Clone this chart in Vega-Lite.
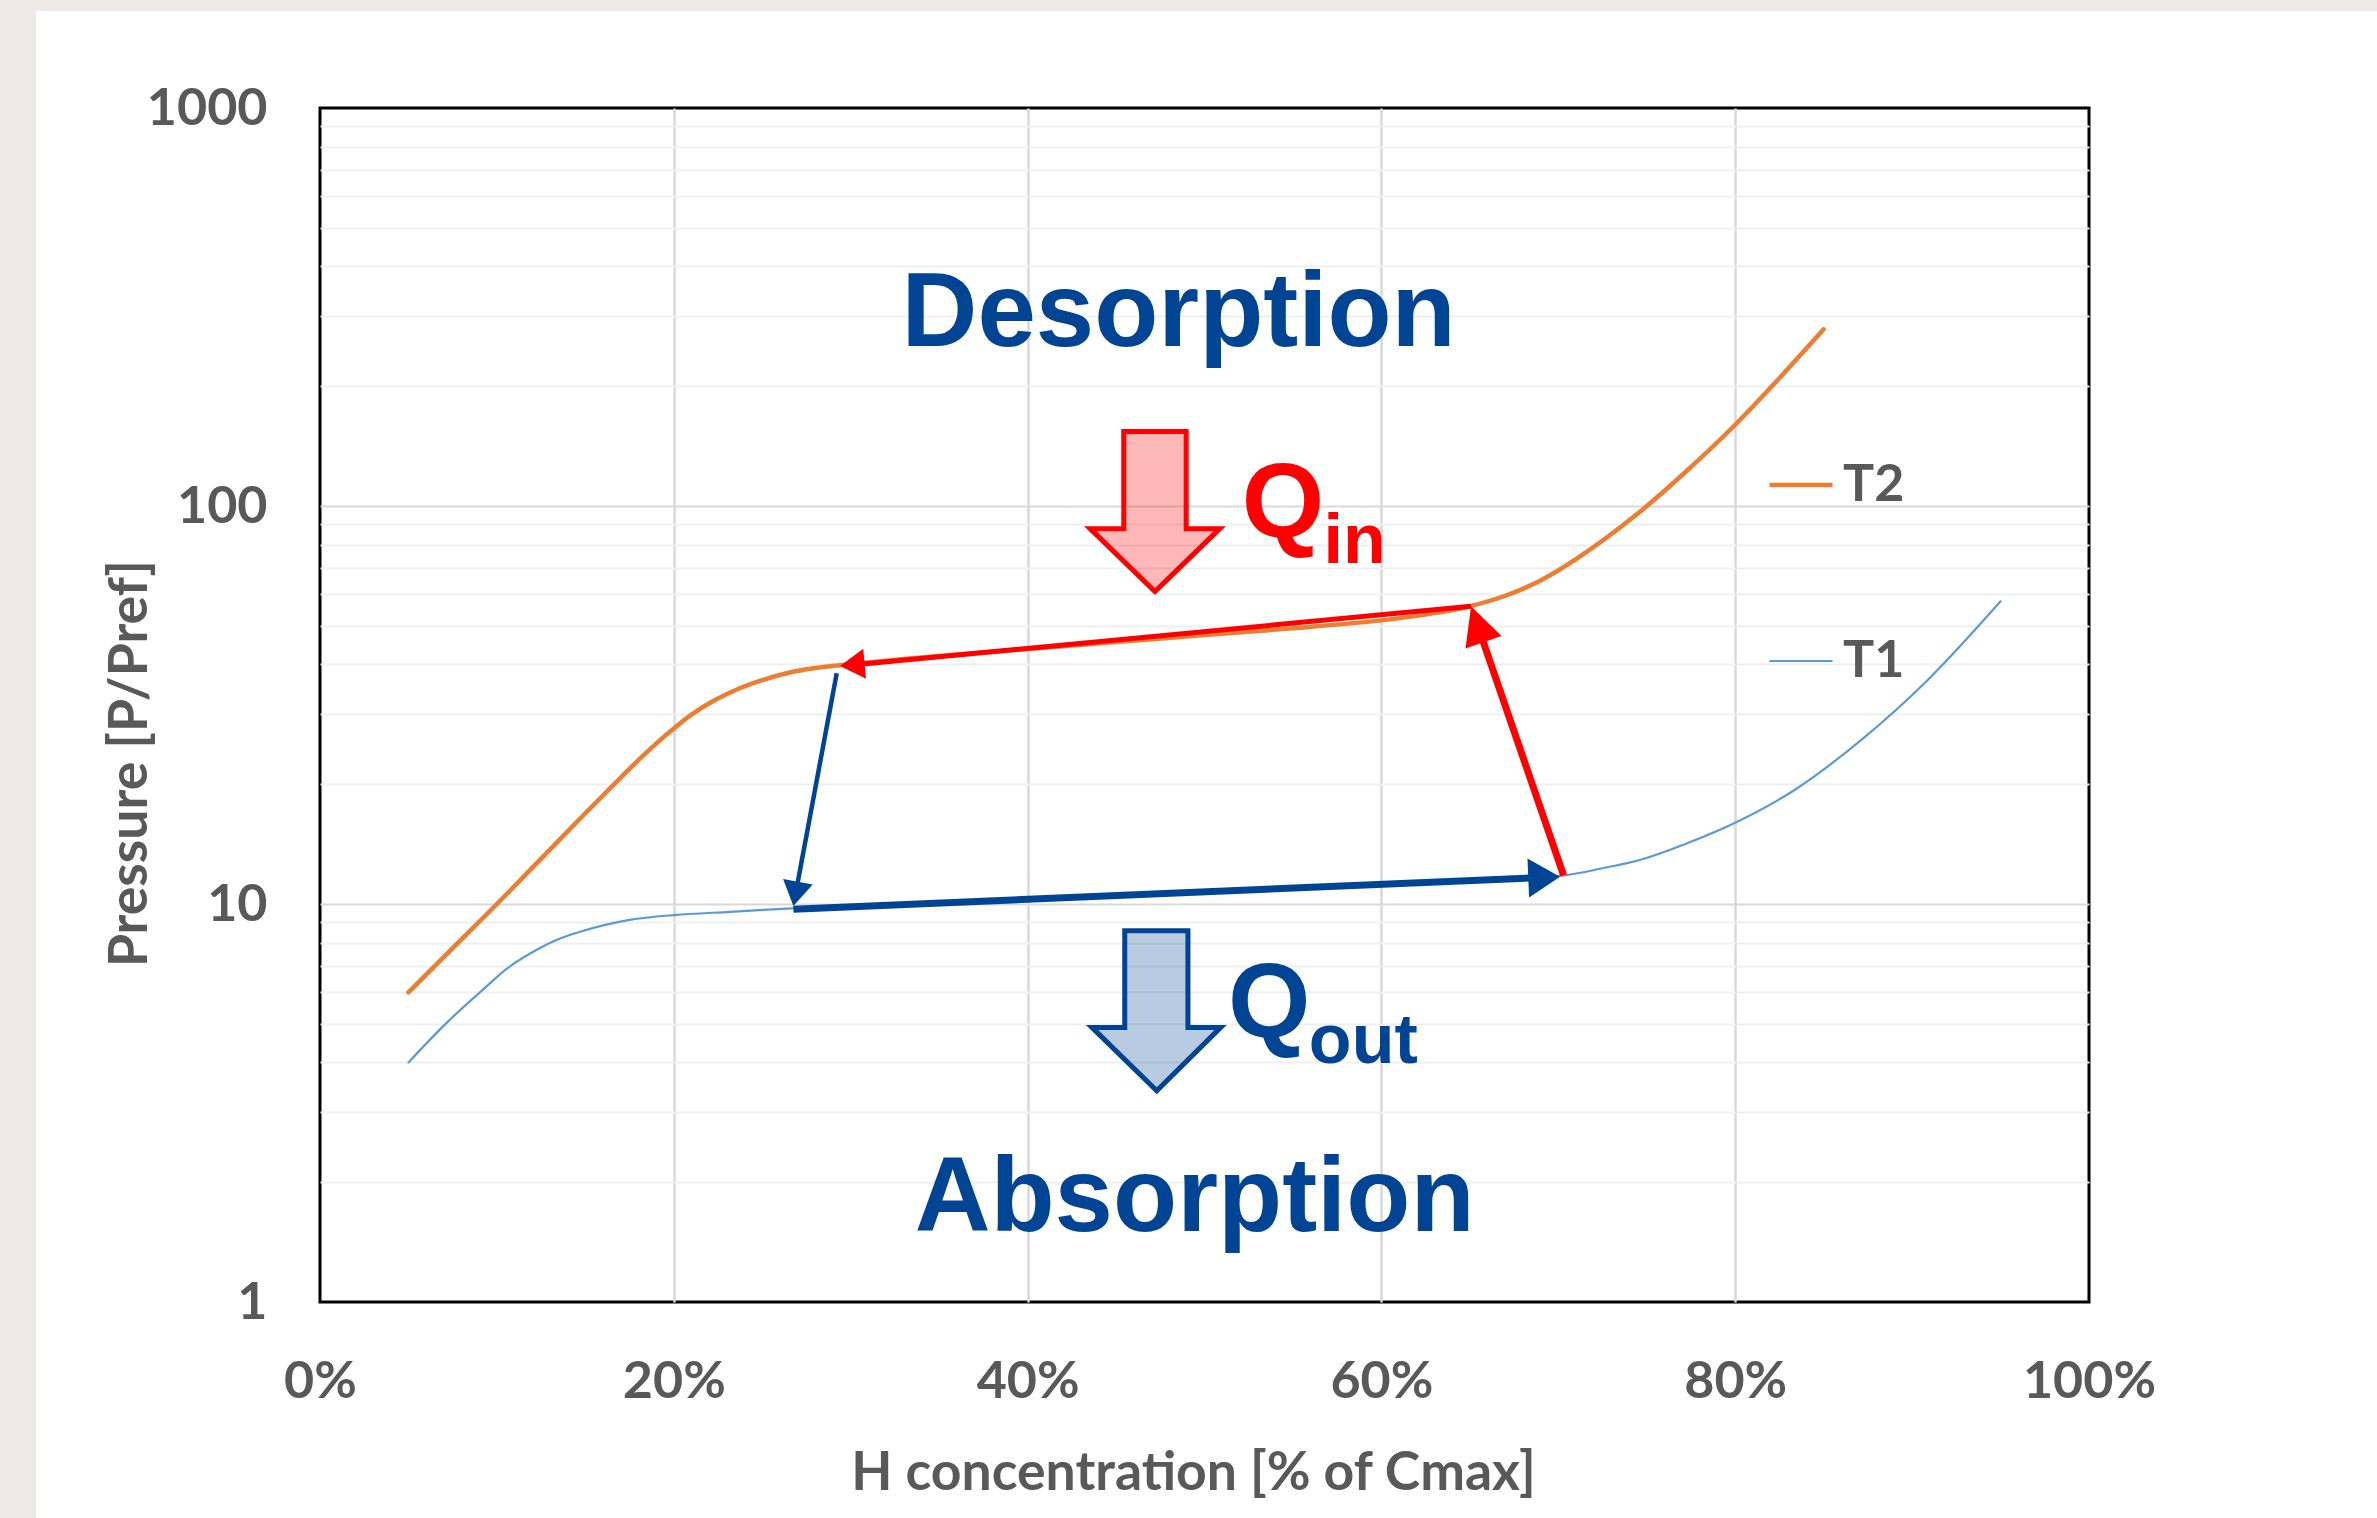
{
  "$schema": "https://vega.github.io/schema/vega-lite/v6.json",
  "width": 1769,
  "height": 1194,
  "autosize": {"type": "none"},
  "padding": {"left": 320, "top": 108, "right": 288, "bottom": 216},
  "background": "#FFFFFF",
  "config": {
    "view": {"stroke": "#000000", "strokeWidth": 3},
    "font": "Lato",
    "legend": {
      "orient": "none", "legendX": 1447, "legendY": 343, "direction": "vertical",
      "symbolType": "stroke", "symbolSize": 3969, "labelFont": "Lato", "labelFontSize": 52,
      "labelFontWeight": "bold", "labelColor": "#595959", "labelOffset": 8, "rowPadding": 117, "padding": 0
    }
  },
  "encoding": {
    "x": {
      "field": "x", "type": "quantitative",
      "scale": {"domain": [0, 100], "nice": false, "zero": false},
      "axis": {
        "values": [0, 20, 40, 60, 80, 100], "labelExpr": "datum.value + '%'", "labelFlush": false,
        "labelFont": "Lato", "labelFontSize": 52, "labelFontWeight": "bold", "labelColor": "#595959",
        "labelPadding": 54, "ticks": false, "domain": false, "grid": true, "gridColor": "#D9D9D9", "gridWidth": 2.5,
        "gridOpacity": {"condition": {"test": "datum.value==0||datum.value==100", "value": 0}, "value": 1},
        "title": "H concentration [% of Cmax]", "titleFont": "Lato", "titleFontSize": 53.5, "titleFontWeight": "bold",
        "titleColor": "#595959", "titleX": 873, "titleY": 187, "titleAlign": "center", "titleBaseline": "alphabetic"
      }
    },
    "y": {
      "field": "y", "type": "quantitative",
      "scale": {"type": "log", "domain": [1, 1000], "nice": false},
      "axis": {
        "values": [1,2,3,4,5,6,7,8,9,10,20,30,40,50,60,70,80,90,100,200,300,400,500,600,700,800,900,1000],
        "labelExpr": "(datum.value==1||datum.value==10||datum.value==100||datum.value==1000) ? format(datum.value,'d') : ''",
        "labelOverlap": false, "labelFont": "Lato", "labelFontSize": 52, "labelFontWeight": "bold", "labelColor": "#595959",
        "labelPadding": 53, "ticks": false, "domain": false, "grid": true,
        "gridColor": {"condition": {"test": "datum.value==10||datum.value==100", "value": "#D9D9D9"}, "value": "#F0F0F0"},
        "gridOpacity": {"condition": {"test": "datum.value==1||datum.value==1000", "value": 0}, "value": 1},
        "gridWidth": 2,
        "title": "Pressure [P/Pref]", "titleFont": "Lato", "titleFontSize": 53.5, "titleFontWeight": "bold", "titleColor": "#595959",
        "titleAngle": -90, "titleX": -174, "titleY": 655, "titleAlign": "center", "titleBaseline": "alphabetic"
      }
    }
  },
  "layer": [
    {
      "data": {"values": [
        {"part": "left margin", "x": -40, "x2": -16.05, "y": 0.05, "y2": 10000},
        {"part": "top margin", "x": -40, "x2": 140, "y": 1754, "y2": 10000}
      ]},
      "mark": {"type": "rect", "fill": "#EBEAE6", "clip": false},
      "encoding": {"x2": {"field": "x2"}, "y2": {"field": "y2"}}
    },
    {
      "data": {"values": [{"x": 47.2, "y": 96.9}]},
      "mark": {"type": "point", "filled": true, "shape": "M-0.39,-1L0.39,-1L0.39,0.215L0.81,0.215L0,1L-0.81,0.215L-0.39,0.215Z",
        "size": 25600, "fill": "#FF0000", "fillOpacity": 0.28, "stroke": "#FF0000", "strokeWidth": 5, "strokeOpacity": 1, "opacity": 1}
    },
    {
      "data": {"values": [{"x": 47.3, "y": 5.39}]},
      "mark": {"type": "point", "filled": true, "shape": "M-0.4,-1L0.39,-1L0.39,0.207L0.8,0.207L0,1L-0.81,0.207L-0.4,0.207Z",
        "size": 25600, "fill": "#014493", "fillOpacity": 0.28, "stroke": "#014493", "strokeWidth": 5, "strokeOpacity": 1, "opacity": 1}
    },
    {
      "data": {"values": [
        {"series": "T2", "x": 5, "y": 6.0}, {"series": "T2", "x": 7.5, "y": 7.75}, {"series": "T2", "x": 10, "y": 10.0},
        {"series": "T2", "x": 12.5, "y": 13.0}, {"series": "T2", "x": 15, "y": 16.9}, {"series": "T2", "x": 18, "y": 23.0},
        {"series": "T2", "x": 19, "y": 25.3}, {"series": "T2", "x": 20, "y": 27.6}, {"series": "T2", "x": 21, "y": 29.9},
        {"series": "T2", "x": 22.2, "y": 32.3}, {"series": "T2", "x": 23.5, "y": 34.5}, {"series": "T2", "x": 25, "y": 36.5},
        {"series": "T2", "x": 26.5, "y": 38.1}, {"series": "T2", "x": 27.9, "y": 39.1}, {"series": "T2", "x": 29.4, "y": 39.8},
        {"series": "T2", "x": 35, "y": 42.0},
        {"series": "T2", "x": 40, "y": 43.7}, {"series": "T2", "x": 45, "y": 45.5}, {"series": "T2", "x": 50, "y": 47.4},
        {"series": "T2", "x": 55, "y": 49.3}, {"series": "T2", "x": 60, "y": 51.6}, {"series": "T2", "x": 63, "y": 53.8},
        {"series": "T2", "x": 65, "y": 56.0}, {"series": "T2", "x": 67, "y": 59.5}, {"series": "T2", "x": 69, "y": 65.0},
        {"series": "T2", "x": 71, "y": 73.5}, {"series": "T2", "x": 74.3, "y": 94.2}, {"series": "T2", "x": 77.3, "y": 123},
        {"series": "T2", "x": 80, "y": 160}, {"series": "T2", "x": 82.3, "y": 205}, {"series": "T2", "x": 85, "y": 278},
        {"series": "T1", "x": 5, "y": 4.0}, {"series": "T1", "x": 7.2, "y": 5.05}, {"series": "T1", "x": 9.4, "y": 6.2},
        {"series": "T1", "x": 10.6, "y": 6.9}, {"series": "T1", "x": 11.9, "y": 7.52}, {"series": "T1", "x": 13.3, "y": 8.1},
        {"series": "T1", "x": 14.7, "y": 8.52}, {"series": "T1", "x": 17.5, "y": 9.12},
        {"series": "T1", "x": 20, "y": 9.38}, {"series": "T1", "x": 23.2, "y": 9.56}, {"series": "T1", "x": 26.7, "y": 9.75},
        {"series": "T1", "x": 30, "y": 9.87}, {"series": "T1", "x": 40, "y": 10.25}, {"series": "T1", "x": 50, "y": 10.7},
        {"series": "T1", "x": 60, "y": 11.2}, {"series": "T1", "x": 70.3, "y": 11.8}, {"series": "T1", "x": 72.5, "y": 12.3},
        {"series": "T1", "x": 74.6, "y": 12.9}, {"series": "T1", "x": 77, "y": 14.05}, {"series": "T1", "x": 80, "y": 16.0},
        {"series": "T1", "x": 83.4, "y": 19.4}, {"series": "T1", "x": 87.2, "y": 26.0}, {"series": "T1", "x": 90.9, "y": 36.6},
        {"series": "T1", "x": 95, "y": 57.6}
      ]},
      "mark": {"type": "line", "interpolate": "catmull-rom", "strokeCap": "round"},
      "encoding": {
        "color": {"field": "series", "type": "nominal", "scale": {"domain": ["T2", "T1"], "range": ["#ED7D31", "#5B9BD5"]}, "legend": {"title": null}},
        "strokeWidth": {"field": "series", "type": "nominal", "scale": {"domain": ["T2", "T1"], "range": [4.5, 2.2]}, "legend": {"title": null}}
      }
    },
    {
      "data": {"values": [{"x": 70.3, "y": 11.8, "x2": 65.34, "y2": 51.6, "tx": 65.07, "ty": 56.0}]},
      "layer": [
        {"mark": {"type": "rule", "color": "#FF0000", "strokeWidth": 7}, "encoding": {"x2": {"field": "x2"}, "y2": {"field": "y2"}}},
        {"mark": {"type": "point", "filled": true, "shape": "M0,0L-0.5,1L0.5,1Z", "size": 5800, "angle": 341, "color": "#FF0000", "opacity": 1},
         "encoding": {"x": {"field": "tx", "type": "quantitative"}, "y": {"field": "ty", "type": "quantitative"}}}
      ]
    },
    {
      "data": {"values": [{"x": 65.07, "y": 56.0, "x2": 29.96, "y2": 39.8, "tx": 29.4, "ty": 39.6}]},
      "layer": [
        {"mark": {"type": "rule", "color": "#FF0000", "strokeWidth": 5}, "encoding": {"x2": {"field": "x2"}, "y2": {"field": "y2"}}},
        {"mark": {"type": "point", "filled": true, "shape": "M0,0L-0.55,0.9L0.55,0.9Z", "size": 3000, "angle": 264.6, "color": "#FF0000", "opacity": 1},
         "encoding": {"x": {"field": "tx", "type": "quantitative"}, "y": {"field": "ty", "type": "quantitative"}}}
      ]
    },
    {
      "data": {"values": [{"x": 29.21, "y": 38.0, "x2": 26.88, "y2": 10.58, "tx": 26.76, "ty": 9.885}]},
      "layer": [
        {"mark": {"type": "rule", "color": "#014493", "strokeWidth": 4.5}, "encoding": {"x2": {"field": "x2"}, "y2": {"field": "y2"}}},
        {"mark": {"type": "point", "filled": true, "shape": "M0,0L-0.55,0.9L0.55,0.9Z", "size": 3000, "angle": 190.6, "color": "#014493", "opacity": 1},
         "encoding": {"x": {"field": "tx", "type": "quantitative"}, "y": {"field": "ty", "type": "quantitative"}}}
      ]
    },
    {
      "data": {"values": [{"x": 26.76, "y": 9.70, "x2": 69.3, "y2": 11.67, "tx": 70.1, "ty": 11.71}]},
      "layer": [
        {"mark": {"type": "rule", "color": "#014493", "strokeWidth": 7}, "encoding": {"x2": {"field": "x2"}, "y2": {"field": "y2"}}},
        {"mark": {"type": "point", "filled": true, "shape": "M0,0L-0.55,0.9L0.55,0.9Z", "size": 5000, "angle": 87.6, "color": "#014493", "opacity": 1},
         "encoding": {"x": {"field": "tx", "type": "quantitative"}, "y": {"field": "ty", "type": "quantitative"}}}
      ]
    },
    {
      "data": {"values": [{"label": "Desorption", "x": 48.54, "y": 252}, {"label": "Absorption", "x": 49.44, "y": 1.508}]},
      "mark": {"type": "text", "font": "Liberation Sans", "fontWeight": "bold", "fontSize": 105, "color": "#014493", "align": "center", "baseline": "alphabetic"},
      "encoding": {"text": {"field": "label"}}
    },
    {
      "data": {"values": [{"label": "Q", "x": 52.1, "y": 83.6}]},
      "mark": {"type": "text", "font": "Liberation Sans", "fontWeight": "bold", "fontSize": 106, "color": "#FF0000", "align": "left", "baseline": "alphabetic"},
      "encoding": {"text": {"field": "label"}}
    },
    {
      "data": {"values": [{"label": "in", "x": 56.73, "y": 71.9}]},
      "mark": {"type": "text", "font": "Liberation Sans", "fontWeight": "bold", "fontSize": 70, "color": "#FF0000", "align": "left", "baseline": "alphabetic"},
      "encoding": {"text": {"field": "label"}}
    },
    {
      "data": {"values": [{"label": "Q", "x": 51.33, "y": 4.63}]},
      "mark": {"type": "text", "font": "Liberation Sans", "fontWeight": "bold", "fontSize": 106, "color": "#014493", "align": "left", "baseline": "alphabetic"},
      "encoding": {"text": {"field": "label"}}
    },
    {
      "data": {"values": [{"label": "out", "x": 55.9, "y": 3.99}]},
      "mark": {"type": "text", "font": "Liberation Sans", "fontWeight": "bold", "fontSize": 70, "color": "#014493", "align": "left", "baseline": "alphabetic"},
      "encoding": {"text": {"field": "label"}}
    }
  ]
}
